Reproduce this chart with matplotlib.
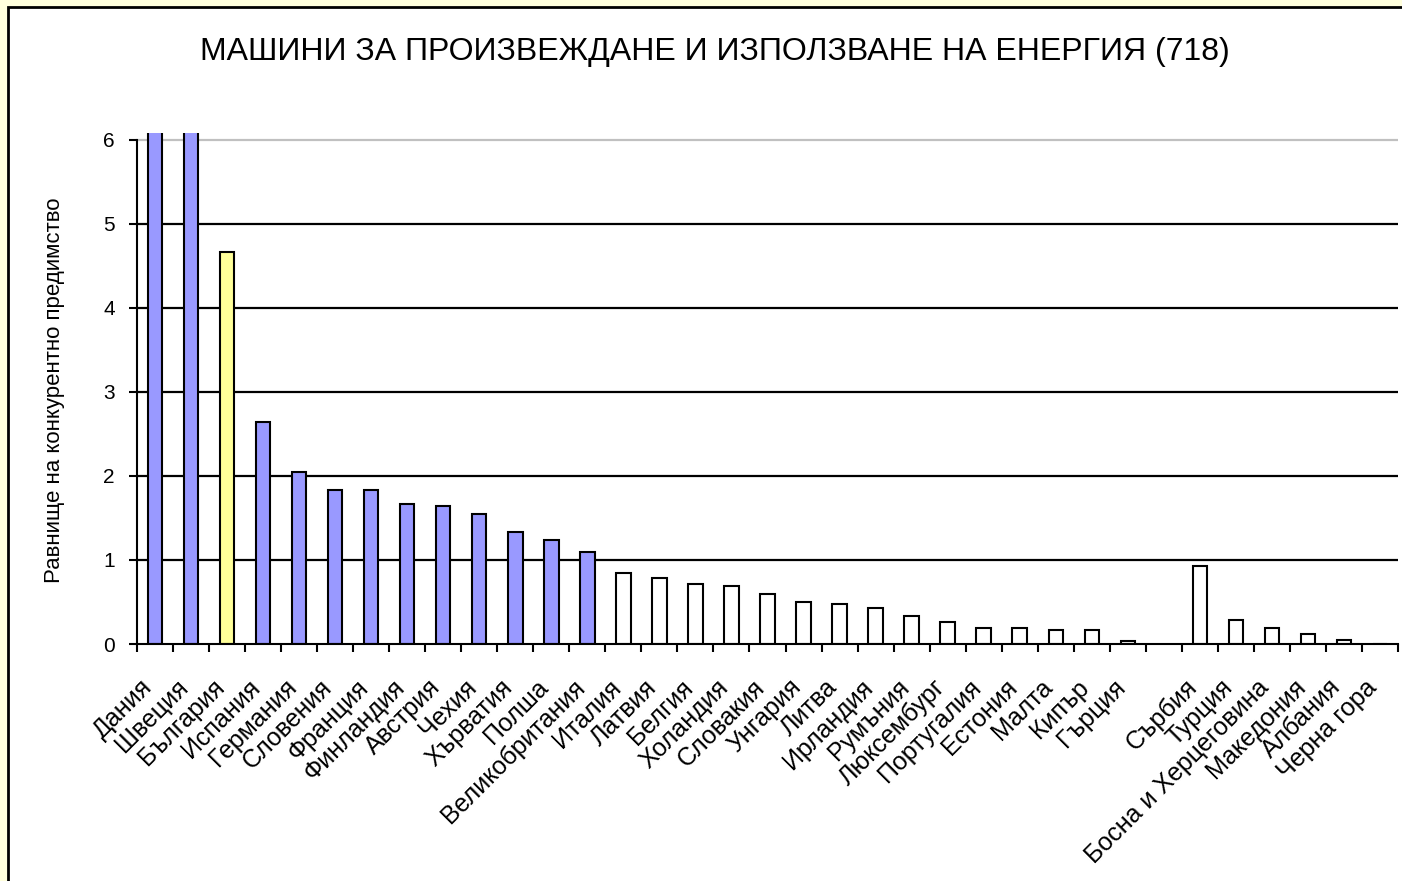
import numpy as np
import matplotlib
matplotlib.use("Agg")
import matplotlib.pyplot as plt
from matplotlib.patches import Rectangle
from matplotlib.transforms import ScaledTranslation

plt.rcParams['font.family'] = ['Liberation Sans', 'DejaVu Sans']

title = "МАШИНИ ЗА ПРОИЗВЕЖДАНЕ И ИЗПОЛЗВАНЕ НА ЕНЕРГИЯ (718)"
ylabel = "Равнище на конкурентно предимство"

countries = ["Дания", "Швеция", "България", "Испания", "Германия", "Словения",
             "Франция", "Финландия", "Австрия", "Чехия", "Хърватия", "Полша",
             "Великобритания", "Италия", "Латвия", "Белгия", "Холандия",
             "Словакия", "Унгария", "Литва", "Ирландия", "Румъния",
             "Люксембург", "Португалия", "Естония", "Малта", "Кипър", "Гърция",
             "", "Сърбия", "Турция", "Босна и Херцеговина", "Македония",
             "Албания", "Черна гора"]
values = [9.0, 7.5, 4.66, 2.64, 2.05, 1.83,
          1.83, 1.67, 1.64, 1.55, 1.33, 1.24,
          1.09, 0.85, 0.78, 0.71, 0.69,
          0.59, 0.50, 0.47, 0.43, 0.33,
          0.26, 0.19, 0.19, 0.17, 0.17, 0.03,
          np.nan, 0.93, 0.28, 0.19, 0.12,
          0.05, 0.0]
highlight = "България"
yticks = [0, 1, 2, 3, 4, 5, 6]

W, H = 1402, 881
fig = plt.figure(figsize=(W / 100, H / 100), dpi=100)
fig.patch.set_facecolor('#FFFFDD')
# white chart area with black border (left/top visible)
bg = Rectangle((8 / W, -0.05), 1.1, (H - 7) / H + 0.05,
               transform=fig.transFigure, facecolor='white',
               edgecolor='black', linewidth=2.0, zorder=-10)
fig.add_artist(bg)

ax = fig.add_axes([137 / W, (H - 644) / H, (1398 - 137) / W, (644 - 133) / H])
ax.set_facecolor('none')
ax.set_zorder(1)

x = np.arange(len(countries))
colors = []
for c, v in zip(countries, values):
    if c == highlight:
        colors.append('#FFFF99')
    elif v > 1:
        colors.append('#9999FF')
    else:
        colors.append('white')

ax.bar(x, values, width=0.4, color=colors, edgecolor='black', linewidth=1.5, zorder=3)

ax.set_xlim(-0.5, len(countries) - 0.5)
ax.set_ylim(0, 6.08)

for yv in yticks[1:]:
    ax.axhline(yv, color='#C0C0C0' if yv == yticks[-1] else 'black',
               linewidth=1.6, zorder=1)

for s in ['top', 'right']:
    ax.spines[s].set_visible(False)
ax.spines['left'].set_bounds(0, 6)
ax.spines['left'].set_linewidth(1.5)
ax.spines['bottom'].set_linewidth(1.5)
ax.spines['bottom'].set_zorder(4)

ax.set_yticks(yticks)
ax.set_yticklabels([str(t) for t in yticks], fontsize=15)
ax.tick_params(axis='y', direction='out', length=6, width=1.5, pad=10)

# category ticks at boundaries
ax.set_xticks(np.arange(len(countries) + 1) - 0.5)
ax.set_xticklabels([])
ax.tick_params(axis='x', which='major', direction='out', length=6, width=1.5)

# category labels, rotated 45 degrees
lab_trans = ax.get_xaxis_transform() + ScaledTranslation(-15 / 100, -31 / 100,
                                                         fig.dpi_scale_trans)
for xi, name in zip(x, countries):
    ax.text(xi, 0, name, transform=lab_trans, rotation=45, ha='right',
            va='top', rotation_mode='anchor', fontsize=18, clip_on=False)

fig.text(55 / W, 1 - 390 / H, ylabel, rotation=90, ha='center', va='center',
         fontsize=16)

fig.text(715 / W, 1 - 52 / H, title, ha='center', va='center', fontsize=23)

fig.savefig('out.png', dpi=100, facecolor=fig.get_facecolor())
